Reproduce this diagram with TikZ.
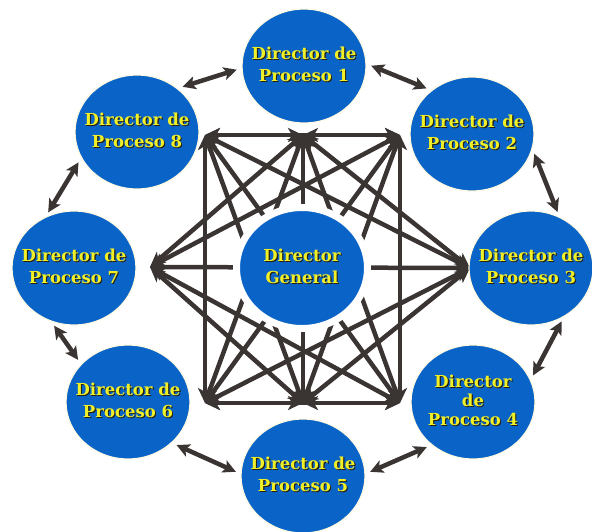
\documentclass[tikz,border=0pt]{standalone}
\usepackage{fontspec}
\setmainfont{DejaVu Serif}
\usetikzlibrary{arrows.meta,shapes.geometric}
\definecolor{procblue}{RGB}{10,100,200}
\definecolor{txtyellow}{RGB}{240,240,40}
\definecolor{shadowc}{RGB}{40,30,10}
\definecolor{linec}{RGB}{58,52,50}
\definecolor{halo}{RGB}{255,250,225}
\newcommand\shd[1]{\leavevmode\rlap{\kern1.1pt\raisebox{-1.1pt}{\color{shadowc}#1}}{\color{txtyellow}#1}}
\newcommand\lbl[1]{\raisebox{-0.5em}{\smash{\makebox[0pt]{\begin{tabular}{@{}c@{}}#1\end{tabular}}}}}
\begin{document}
\begin{tikzpicture}[x=1pt,y=-1pt,
  proc/.style={ellipse, fill=procblue, draw=halo, line width=1.2pt,
    minimum width=124pt, minimum height=114pt, inner sep=0pt,
    font=\bfseries\fontsize{16.5}{22}\selectfont},
  gen/.style={proc, draw=white, line width=7pt, minimum width=131pt, minimum height=121pt},
  hubline/.style={draw=linec, line width=4.5pt,
    {Stealth[length=15pt,width=14pt,inset=4pt]}-{Stealth[length=15pt,width=14pt,inset=4pt]}},
  ringarrow/.style={draw=linec, line width=4.5pt, shorten <=5pt, shorten >=5pt,
    {Stealth[length=13pt,width=13pt,inset=3pt]}-{Stealth[length=13pt,width=13pt,inset=3pt]}}]
\useasboundingbox (0,0) rectangle (592,531);
% hubs
\coordinate (h1) at (303,135);
\coordinate (h2) at (400,135);
\coordinate (h3) at (470,268);
\coordinate (h4) at (400,403);
\coordinate (h5) at (303,403);
\coordinate (h6) at (205,403);
\coordinate (h7) at (150,267);
\coordinate (h8) at (205,135);
% connections among hubs
\foreach \a/\b in {1/2,1/3,1/4,1/5,1/6,1/7,1/8,
                   2/4,2/5,2/6,2/7,2/8,
                   3/5,3/6,3/7,3/8,
                   4/5,4/6,4/7,4/8,
                   5/6,5/7,5/8,
                   6/8}
  \draw[hubline] (h\a) -- (h\b);
% nodes
\node[gen]  (g)  at (302,268) {\lbl{\shd{Director}\\\shd{General}}};
\node[proc] (p1) at (304,66)  {\lbl{\shd{Director de}\\\shd{Proceso 1}}};
\node[proc] (p2) at (472,134) {\lbl{\shd{Director de}\\\shd{Proceso 2}}};
\node[proc] (p3) at (531,268) {\lbl{\shd{Director de}\\\shd{Proceso 3}}};
\node[proc] (p4) at (473,402) {\lbl{\shd{Director}\\[-3pt]\shd{de}\\[-3pt]\shd{Proceso 4}}};
\node[proc] (p5) at (303,476) {\lbl{\shd{Director de}\\\shd{Proceso 5}}};
\node[proc] (p6) at (128,402) {\lbl{\shd{Director de}\\\shd{Proceso 6}}};
\node[proc] (p7) at (74,268)  {\lbl{\shd{Director de}\\\shd{Proceso 7}}};
\node[proc] (p8) at (137,132) {\lbl{\shd{Director de}\\\shd{Proceso 8}}};
% ring arrows
\draw[ringarrow] (p8.47)  -- (p1.182);
\draw[ringarrow] (p1.2)   -- (p2.133);
\draw[ringarrow] (p2.-14) -- (p3.61);
\draw[ringarrow] (p3.-56) -- (p4.21);
\draw[ringarrow] (p4.226) -- (p5.2);
\draw[ringarrow] (p5.178) -- (p6.-43);
\draw[ringarrow] (p6.141) -- (p7.247);
\draw[ringarrow] (p7.119) -- (p8.205);
\end{tikzpicture}
\end{document}
